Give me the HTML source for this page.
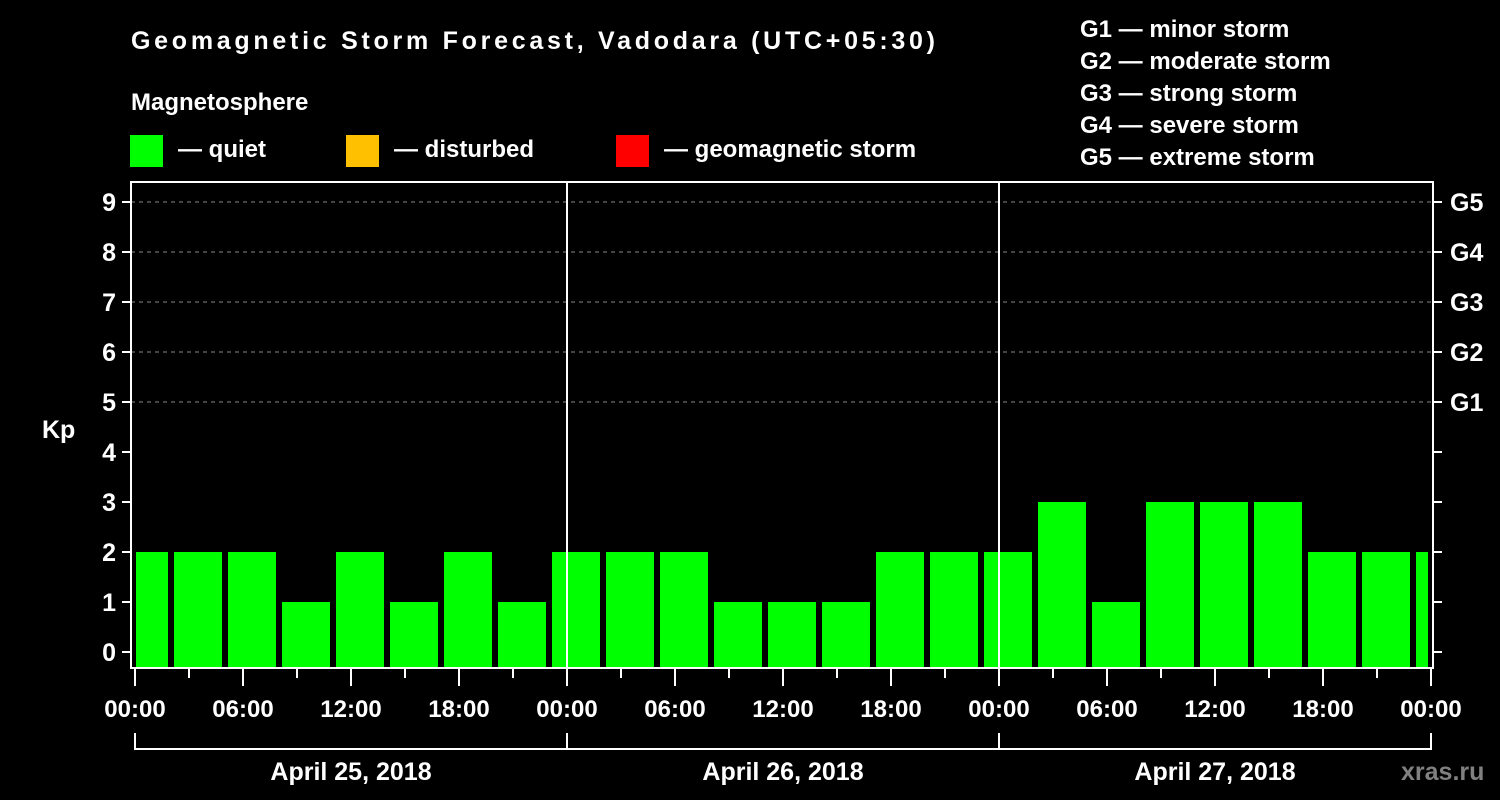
<!DOCTYPE html>
<html><head><meta charset="utf-8"><style>
html,body{margin:0;padding:0;background:#000;}
svg{display:block;font-family:"Liberation Sans",Arial,sans-serif;font-weight:bold;}
</style></head><body>
<svg id="chart" width="1500" height="800" viewBox="0 0 1500 800">
<rect x="0" y="0" width="1500" height="800" fill="#000"/>
<text x="131" y="49" fill="#fff" font-size="25" textLength="804">Geomagnetic Storm Forecast, Vadodara (UTC+05:30)</text>
<text x="131" y="110" fill="#fff" font-size="24">Magnetosphere</text>
<g><rect x="130" y="135" width="33" height="32" fill="#00ff00"/><text x="178" y="157" fill="#fff" font-size="24">— quiet</text></g>
<g><rect x="346" y="135" width="33" height="32" fill="#ffc000"/><text x="394" y="157" fill="#fff" font-size="24">— disturbed</text></g>
<g><rect x="616" y="135" width="33" height="32" fill="#ff0000"/><text x="664" y="157" fill="#fff" font-size="24">— geomagnetic storm</text></g>
<g fill="#fff" font-size="24">
<text x="1080" y="37">G1 — minor storm</text>
<text x="1080" y="69">G2 — moderate storm</text>
<text x="1080" y="101">G3 — strong storm</text>
<text x="1080" y="133">G4 — severe storm</text>
<text x="1080" y="165">G5 — extreme storm</text>
</g>
<text x="42" y="438" fill="#fff" font-size="25">Kp</text>
<g id="grid"></g>
<g id="bars"></g>
<g id="axes"></g>
<text x="1401" y="780" fill="#808080" font-size="25">xras.ru</text>
</svg>
<script>
const kpValues = [2,2,2,1,2,1,2,1, 2,2,2,1,1,1,2,2, 2,3,1,3,3,3,2,2,2];
const yTicks = [0,1,2,3,4,5,6,7,8,9];
const gLabels = ["G1","G2","G3","G4","G5"];
const gLevels = [5,6,7,8,9];
const hourLabels = ["00:00","06:00","12:00","18:00"];
const dayLabels = ["April 25, 2018","April 26, 2018","April 27, 2018"];
const NS = "http://www.w3.org/2000/svg";
const x = h => 135 + 18*h;
const y = v => 652 - 50*v;
const L = 131, R = 1433, T = 182, B = 668;
function mk(tag, attrs, parent){const e=document.createElementNS(NS,tag);for(const k in attrs)e.setAttribute(k,attrs[k]);parent.appendChild(e);return e;}
const grid=document.getElementById('grid'), bars=document.getElementById('bars'), axes=document.getElementById('axes');
gLevels.forEach(v=>{const l=mk('line',{x1:L,x2:R,y1:y(v),y2:y(v),stroke:'#888','stroke-width':1,'stroke-dasharray':'4,4'},grid);

});
kpValues.forEach((v,i)=>{
  let x0 = x(3*i-1)+3, x1 = x(3*i+2)-3;
  x0 = Math.max(x0,136); x1 = Math.min(x1,1428);
  const col = v>=5?'#ff0000':(v>=4?'#ffc000':'#00ff00');
  const r=mk('rect',{x:x0,y:y(v),width:x1-x0,height:B-1-y(v),fill:col},bars);
  
  
});
// day separators
[1,2].forEach(d=>{const l=mk('line',{x1:x(24*d),x2:x(24*d),y1:T,y2:B,stroke:'#fff','stroke-width':2},axes);

});
const frame=mk('rect',{x:L,y:T,width:R-L,height:B-T,fill:'none',stroke:'#fff','stroke-width':2},axes);


yTicks.forEach(v=>{
  mk('line',{x1:122,x2:L,y1:y(v),y2:y(v),stroke:'#fff','stroke-width':2},axes);
  mk('line',{x1:R,x2:1442,y1:y(v),y2:y(v),stroke:'#fff','stroke-width':2},axes);
  const t=mk('text',{x:116,y:y(v)+9,fill:'#fff','font-size':25,'text-anchor':'end'},axes);t.textContent=v;
  
  
});
gLevels.forEach((v,i)=>{const t=mk('text',{x:1450,y:y(v)+9,fill:'#fff','font-size':25},axes);t.textContent=gLabels[i];

});
for(let h=0;h<=72;h+=3){
  const major=h%6===0;
  mk('line',{x1:x(h),x2:x(h),y1:B,y2:major?686:678,stroke:'#fff','stroke-width':2},axes);
  if(major){const t=mk('text',{x:x(h),y:717,fill:'#fff','font-size':24,'text-anchor':'middle'},axes);t.textContent=hourLabels[(h/6)%4];
  
  }
}
dayLabels.forEach((d,i)=>{
  const p=mk('path',{d:`M${x(24*i)},733V749H${x(24*i+24)}V733`,fill:'none',stroke:'#fff','stroke-width':2},axes);
  
  
  const t=mk('text',{x:x(24*i+12),y:780,fill:'#fff','font-size':25,'text-anchor':'middle'},axes);t.textContent=d;
  
  
});
</script>
</body></html>
